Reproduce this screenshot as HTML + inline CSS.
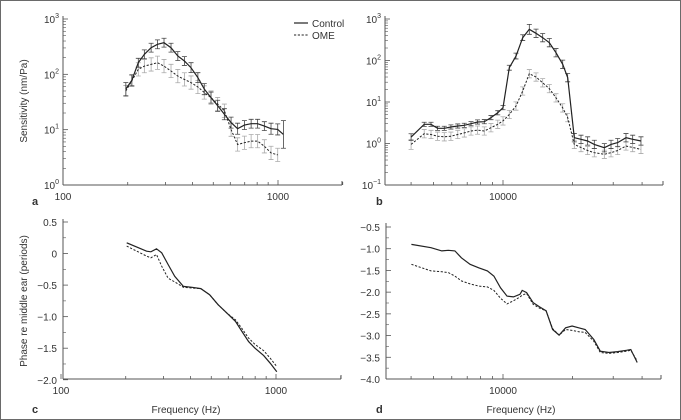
<!DOCTYPE html>
<html><head><meta charset="utf-8"><style>
html,body{margin:0;padding:0;background:#fff;}
#wrap{width:681px;height:420px;box-sizing:border-box;border:1px solid #6a6a6a;position:relative;overflow:hidden;}
svg{position:absolute;left:0;top:0;font-family:"Liberation Sans",sans-serif;}
</style></head><body>
<div id="wrap">
<svg id="svg" width="681" height="420" viewBox="0 0 681 420"></svg>
</div>
<script>
// ---- Panel a: sensitivity, low frequency ----
const aFreq = [196,209,224,239,257,275,295,318,342,367,394,424,454,488,524,563,605,649,698,750,804,864,928,997,1060];
const aCtrl = [54,78,162,230,303,349,373,303,214,174,132,87,54,38,27,19,13.4,10.4,12.1,12.8,12.8,11.6,10.4,10.1,8.2];
const aOmeFreq = [196,209,224,239,257,275,295,318,342,367,394,424,454,488,524,563,605,649,698,750,804,864,928,997];
const aOme = [50,76,123,141,151,162,141,115,93,81,71,59,47,38,29,22,10,5.4,5.8,6.2,6.2,5.0,3.8,3.5];
const aCtrlErr = [0.12,0.1,0.08,0.08,0.08,0.08,0.08,0.08,0.08,0.08,0.09,0.09,0.1,0.1,0.1,0.1,0.1,0.1,0.08,0.08,0.08,0.08,0.1,0.1,0.25];
const aOmeErr = [0.1,0.1,0.12,0.12,0.12,0.12,0.12,0.12,0.12,0.12,0.12,0.12,0.12,0.12,0.12,0.12,0.12,0.12,0.12,0.12,0.12,0.12,0.12,0.12];
// ---- Panel b: sensitivity, high frequency ----
const bFreq = [4000,4560,4880,5210,5570,5950,6370,6800,7270,7760,8300,8870,9490,10000,10650,11380,12170,13000,13900,14850,15870,16960,18130,19050,20360,21760,23250,24850,27460,29350,31370,34070,36420,39560];
const bCtrl = [1.43,2.9,2.9,2.32,2.32,2.5,2.64,2.74,3.0,3.3,3.36,4.2,5.5,7.3,67,128,355,564,452,355,269,154,81,38.6,1.38,1.26,1.15,0.95,0.79,0.95,1.05,1.38,1.26,1.15];
const bOme = [0.95,1.72,1.65,1.5,1.45,1.5,1.65,1.8,2.0,2.1,2.0,2.4,2.9,3.5,5.0,8.0,18.4,48,40,29,21,12.6,7.2,4.2,0.95,0.8,0.68,0.6,0.55,0.6,0.68,0.87,0.8,0.72];
const bCtrlErr = [0.08,0.05,0.05,0.05,0.05,0.05,0.05,0.05,0.05,0.05,0.05,0.05,0.05,0.05,0.06,0.07,0.07,0.12,0.1,0.1,0.1,0.1,0.1,0.1,0.1,0.1,0.1,0.1,0.1,0.1,0.1,0.1,0.1,0.1];
const bOmeErr = [0.12,0.1,0.1,0.1,0.1,0.1,0.1,0.1,0.1,0.1,0.1,0.1,0.1,0.1,0.1,0.1,0.1,0.1,0.1,0.1,0.1,0.1,0.1,0.1,0.1,0.1,0.1,0.1,0.1,0.1,0.1,0.1,0.1,0.1];
// ---- Panel c: phase, low frequency ----
const cFreq = [202,250,262,278,294,315,338,371,407,447,491,538,591,648,695,746,799,877,941,1009];
const cCtrl = [0.171,0.038,0.028,0.075,0.012,-0.174,-0.36,-0.52,-0.535,-0.556,-0.652,-0.81,-0.944,-1.076,-1.236,-1.395,-1.5,-1.618,-1.74,-1.873];
const cOme = [0.118,-0.041,-0.068,-0.015,-0.2,-0.39,-0.45,-0.535,-0.546,-0.556,-0.652,-0.81,-0.944,-1.05,-1.19,-1.34,-1.44,-1.54,-1.66,-1.79];
// ---- Panel d: phase, high frequency ----
const dFreq = [4013,4878,5432,5797,6193,6607,7203,7852,8560,9135,9752,10406,11105,11850,12110,12650,13500,14400,15370,16400,17500,18670,19920,21260,22690,24720,26380,28770,31380,34220,35730,38110];
const dCtrl = [-0.9,-0.976,-1.05,-1.037,-1.05,-1.21,-1.36,-1.44,-1.51,-1.63,-1.9,-2.09,-2.11,-2.05,-1.96,-2.01,-2.24,-2.34,-2.43,-2.86,-2.99,-2.82,-2.78,-2.82,-2.86,-3.09,-3.36,-3.39,-3.37,-3.34,-3.32,-3.62];
const dOme = [-1.36,-1.51,-1.53,-1.55,-1.63,-1.74,-1.81,-1.86,-1.88,-1.96,-2.14,-2.27,-2.2,-2.11,-2.07,-2.03,-2.28,-2.37,-2.43,-2.84,-2.99,-2.86,-2.88,-2.91,-2.93,-3.13,-3.39,-3.41,-3.39,-3.36,-3.34,-3.58];
// tick labels
const aYTicks = ["10<tspan dy='-5' font-size='7'>0</tspan>","10<tspan dy='-5' font-size='7'>1</tspan>","10<tspan dy='-5' font-size='7'>2</tspan>","10<tspan dy='-5' font-size='7'>3</tspan>"];
const bYTicks = ["10<tspan dy='-5' font-size='7'>−1</tspan>","10<tspan dy='-5' font-size='7'>0</tspan>","10<tspan dy='-5' font-size='7'>1</tspan>","10<tspan dy='-5' font-size='7'>2</tspan>","10<tspan dy='-5' font-size='7'>3</tspan>"];
const cYTicks = [0.5,0,-0.5,-1.0,-1.5,-2.0];
const dYTicks = [-0.5,-1.0,-1.5,-2.0,-2.5,-3.0,-3.5,-4.0];

const NS='http://www.w3.org/2000/svg';
const svg=document.getElementById('svg');
const AX='#555', TXT='#333';
function mk(tag,attrs,parent){const e=document.createElementNS(NS,tag);for(const k in attrs)e.setAttribute(k,attrs[k]);(parent||svg).appendChild(e);return e;}
function fmt(v){return (v<0?'−':'')+Math.abs(v).toFixed(1).replace(/^0\.0$/,'0');}

// axis functions
function logX(x0,f0,ppd){return f=>x0+Math.log10(f/f0)*ppd;}
function logY(yTop,vTop,ppd){return v=>yTop+(Math.log10(vTop)-Math.log10(v))*ppd;}
function linY(yTop,vTop,ppu){return v=>yTop+(vTop-v)*ppu;}

function xAxis(g,sx,x1,x2,y,majors,minors){
  mk('line',{x1:x1,x2:x2,y1:y,y2:y,stroke:AX,'stroke-width':1},g);
  mk('line',{x1:x2,x2:x2,y1:y,y2:y-4,stroke:AX,'stroke-width':1},g);
  minors.forEach(f=>{const x=sx(f);mk('line',{x1:x,x2:x,y1:y,y2:y-3,stroke:AX,'stroke-width':0.8},g);});
  majors.forEach(f=>{const x=sx(f);mk('line',{x1:x,x2:x,y1:y,y2:y-5,stroke:AX,'stroke-width':0.8},g);
    const t=mk('text',{x:x,y:y+15,'font-size':10,fill:TXT,'text-anchor':'middle'},g);t.textContent=String(f);});
}
function logYAxis(g,sy,x,y1,y2,e0,e1,labels){
  mk('line',{x1:x,x2:x,y1:y1,y2:y2,stroke:AX,'stroke-width':1},g);
  for(let e=e0;e<=e1;e++){const y=sy(Math.pow(10,e));
    mk('line',{x1:x,x2:x+5,y1:y,y2:y,stroke:AX,'stroke-width':0.8},g);
    const t=mk('text',{x:x-4,y:y+4,'font-size':10,fill:TXT,'text-anchor':'end'},g);t.innerHTML=labels[e-e0];
    if(e<e1)for(let m=2;m<10;m++){const yy=sy(m*Math.pow(10,e));mk('line',{x1:x,x2:x+3,y1:yy,y2:yy,stroke:AX,'stroke-width':0.6},g);}
  }
}
function linYAxis(g,sy,x,y1,y2,ticks){
  mk('line',{x1:x,x2:x,y1:y1,y2:y2,stroke:AX,'stroke-width':1},g);
  ticks.forEach((v,i)=>{const y=sy(v);mk('line',{x1:x,x2:x+5,y1:y,y2:y,stroke:AX,'stroke-width':0.8},g);
    if(i<ticks.length-1){const ym=sy(v-0.25);mk('line',{x1:x,x2:x+3,y1:ym,y2:ym,stroke:AX,'stroke-width':0.6},g);}
    const t=mk('text',{x:x-6,y:y+4,'font-size':10,fill:TXT,'text-anchor':'end'},g);t.textContent=fmt(v);});
}
function line(g,xs,ys,sx,sy,dashed,color,name){
  const d=xs.map((f,i)=>(i?'L':'M')+sx(f).toFixed(1)+','+sy(ys[i]).toFixed(1)).join('');
  const p=mk('path',{d:d,fill:'none',stroke:color,'stroke-width':dashed?1:1.2,'stroke-dasharray':dashed?'2.2,1.6':'none'},g);
  
  
}
function errs(g,xs,ys,es,sx,sy,color,name){
  xs.forEach((f,i)=>{const x=sx(f),yt=sy(ys[i]*Math.pow(10,es[i])),yb=sy(ys[i]/Math.pow(10,es[i]));
    const e=mk('path',{d:`M${x},${yt}L${x},${yb}M${x-2.5},${yt}L${x+2.5},${yt}M${x-2.5},${yb}L${x+2.5},${yb}`,stroke:color,'stroke-width':0.8,fill:'none'},g);
    
    
  });
}
function group(name){const g=mk('g',{});return g;}
function label(g,x,y,txt,opts){const t=mk('text',Object.assign({x:x,y:y,'font-size':10,fill:TXT},opts||{}),g);t.textContent=txt;return t;}

// Panel a
(function(){
  const g=group('panel-a');
  const sx=logX(62,100,215), sy=logY(18,1000,55.33);
  logYAxis(g,sy,62,15,184,0,3,aYTicks);
  xAxis(g,sx,62,341,184,[100,1000],[200,300,400,500,600,700,800,900,2000]);
  errs(g,aOmeFreq,aOme,aOmeErr,sx,sy,'#aaa','ome-error-bar');
  errs(g,aFreq,aCtrl,aCtrlErr,sx,sy,'#444','control-error-bar');
  line(g,aOmeFreq,aOme,sx,sy,true,'#222','ome-line-a');
  line(g,aFreq,aCtrl,sx,sy,false,'#222','control-line-a');
  const t=label(g,26,100,'Sensitivity (nm/Pa)',{'text-anchor':'middle',transform:'rotate(-90 26 100)'});
  
  label(g,31,204,'a',{'font-weight':'bold','font-size':11});
  const lg=group('legend');
  mk('line',{x1:293,x2:307,y1:22,y2:22,stroke:'#222','stroke-width':1.2},lg);
  label(lg,311,26,'Control');
  mk('line',{x1:293,x2:307,y1:34,y2:34,stroke:'#222','stroke-width':1,'stroke-dasharray':'2.2,1.6'},lg);
  label(lg,311,38,'OME');
})();
// Panel b
(function(){
  const g=group('panel-b');
  const sx=logX(502,10000,231), sy=logY(18,1000,41.5);
  logYAxis(g,sy,384,15,184,-1,3,bYTicks);
  xAxis(g,sx,384,662,184,[10000],[4000,5000,6000,7000,8000,9000,20000,30000,40000]);
  errs(g,bFreq,bOme,bOmeErr,sx,sy,'#aaa','ome-error-bar');
  errs(g,bFreq,bCtrl,bCtrlErr,sx,sy,'#444','control-error-bar');
  line(g,bFreq,bOme,sx,sy,true,'#222','ome-line-b');
  line(g,bFreq,bCtrl,sx,sy,false,'#222','control-line-b');
  label(g,375,204,'b',{'font-weight':'bold','font-size':11});
})();
// Panel c
(function(){
  const g=group('panel-c');
  const sx=logX(60,100,215), sy=linY(221,0.5,63.1);
  linYAxis(g,sy,62,218,378,cYTicks);
  xAxis(g,sx,62,340,378,[100,1000],[200,300,400,500,600,700,800,900,2000]);
  line(g,cFreq,cOme,sx,sy,true,'#222','ome-line-c');
  line(g,cFreq,cCtrl,sx,sy,false,'#222','control-line-c');
  const t=label(g,26,300,'Phase re middle ear (periods)',{'text-anchor':'middle',transform:'rotate(-90 26 300)'});
  
  label(g,185,412,'Frequency (Hz)',{'text-anchor':'middle'});
  label(g,31,412,'c',{'font-weight':'bold','font-size':11});
})();
// Panel d
(function(){
  const g=group('panel-d');
  const sx=logX(502,10000,231), sy=linY(226,-0.5,43.43);
  linYAxis(g,sy,385,222,378,dYTicks);
  xAxis(g,sx,385,660,378,[10000],[4000,5000,6000,7000,8000,9000,20000,30000,40000]);
  line(g,dFreq,dOme,sx,sy,true,'#222','ome-line-d');
  line(g,dFreq,dCtrl,sx,sy,false,'#222','control-line-d');
  label(g,520,412,'Frequency (Hz)',{'text-anchor':'middle'});
  label(g,375,412,'d',{'font-weight':'bold','font-size':11});
})();
</script>
</body></html>
